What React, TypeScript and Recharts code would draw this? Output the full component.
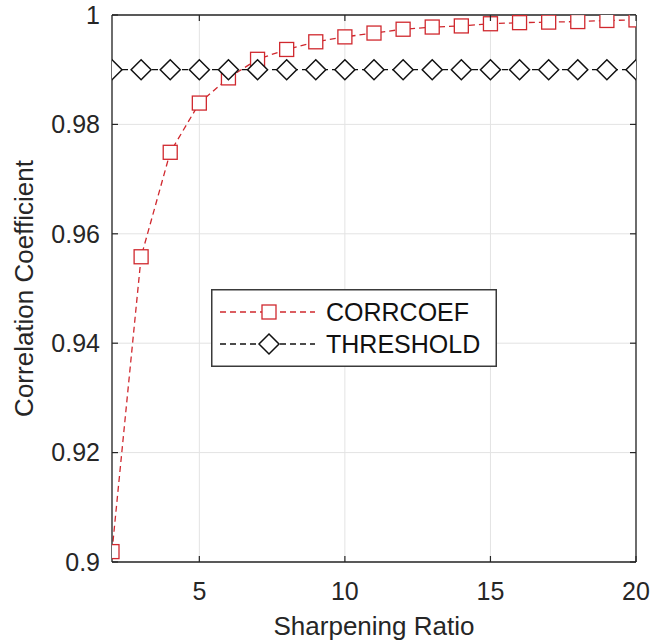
import React from 'react'
import {
  LineChart,
  Line,
  XAxis,
  YAxis,
  CartesianGrid,
  ReferenceLine,
  Legend,
  Label,
} from 'recharts'

// sharpening ratio on x, correlation coefficient on y
const RATIOS = [2, 3, 4, 5, 6, 7, 8, 9, 10, 11, 12, 13, 14, 15, 16, 17, 18, 19, 20]
const CORRCOEF = [
  0.9019, 0.9558, 0.9749, 0.9839, 0.9885, 0.9919, 0.9937, 0.9951, 0.996, 0.9967,
  0.9974, 0.9978, 0.998, 0.9984, 0.9986, 0.9987, 0.9988, 0.999, 0.9991,
]
const THRESHOLD = 0.99
const X_TICKS = [5, 10, 15, 20]
const Y_TICKS = [0.9, 0.92, 0.94, 0.96, 0.98, 1]

const data = RATIOS.map((r, i) => ({ ratio: r, corr: CORRCOEF[i], threshold: THRESHOLD }))

const W = 651
const H = 642
const PLOT_TOP = 15
const PLOT_LEFT = 112
const PLOT_RIGHT = 636
const PLOT_BOTTOM = 562
const AXIS = '#262626'
const GRID = '#e3e3e3'
const RED = '#d0282e'
const FONT = '"Liberation Sans", Arial, Helvetica, sans-serif'
const TICK_LEN = 6

function Square({ cx, cy, size = 14 }: { cx: number; cy: number; size?: number }) {
  return (
    <rect
      x={cx - size / 2}
      y={cy - size / 2}
      width={size}
      height={size}
      fill="#fff"
      stroke={RED}
      strokeWidth={1.3}
    />
  )
}

function Diamond({ cx, cy, r = 10 }: { cx: number; cy: number; r?: number }) {
  return (
    <polygon
      points={`${cx},${cy - r} ${cx + r},${cy} ${cx},${cy + r} ${cx - r},${cy}`}
      fill="#fff"
      stroke="#111"
      strokeWidth={1.5}
    />
  )
}

function XTick({ x, y, payload }: any) {
  return (
    <g>
      <line x1={x} x2={x} y1={PLOT_BOTTOM} y2={PLOT_BOTTOM - TICK_LEN} stroke={AXIS} strokeWidth={1.2} />
      <line x1={x} x2={x} y1={PLOT_TOP} y2={PLOT_TOP + TICK_LEN} stroke={AXIS} strokeWidth={1.2} />
      <text x={x} y={y} dy="0.71em" textAnchor="middle" fontSize={25} fontFamily={FONT} fill="#262626">
        {payload.value}
      </text>
    </g>
  )
}

function YTick({ x, y, payload }: any) {
  const label = String(+Number(payload.value).toFixed(2))
  return (
    <g>
      <line x1={PLOT_LEFT} x2={PLOT_LEFT + TICK_LEN} y1={y} y2={y} stroke={AXIS} strokeWidth={1.2} />
      <line x1={PLOT_RIGHT} x2={PLOT_RIGHT - TICK_LEN} y1={y} y2={y} stroke={AXIS} strokeWidth={1.2} />
      <text x={x} y={y} dy="0.355em" textAnchor="end" fontSize={25} fontFamily={FONT} fill="#262626">
        {label}
      </text>
    </g>
  )
}

function LegendBox() {
  const rows = [
    { name: 'CORRCOEF', color: RED, marker: 'square' },
    { name: 'THRESHOLD', color: '#111', marker: 'diamond' },
  ]
  return (
    <svg width={286} height={78} style={{ display: 'block' }}>
      <rect x={0.75} y={0.75} width={284.5} height={76.5} fill="#fff" stroke="#3a3a3a" strokeWidth={1.5} />
      {rows.map((r, i) => {
        const cy = 23 + i * 32
        return (
          <g key={r.name}>
            <line x1={9} x2={104} y1={cy} y2={cy} stroke={r.color} strokeWidth={1.3} strokeDasharray="6 4" />
            {r.marker === 'square' ? <Square cx={58} cy={cy} /> : <Diamond cx={58} cy={cy} />}
            <text x={115} y={cy} dy="0.355em" fontSize={25} fontFamily={FONT} fill="#111">
              {r.name}
            </text>
          </g>
        )
      })}
    </svg>
  )
}

export default function App() {
  return (
    <div style={{ position: 'absolute', left: 0, top: 0, width: W, height: H, background: '#fff' }}>
      <LineChart
        width={W}
        height={H}
        data={data}
        margin={{ top: PLOT_TOP, right: W - PLOT_RIGHT, bottom: 0, left: 0 }}
      >
        <CartesianGrid stroke={GRID} strokeWidth={1} />
        <XAxis
          dataKey="ratio"
          type="number"
          domain={[2, 20]}
          ticks={X_TICKS}
          allowDataOverflow
          height={H - PLOT_BOTTOM}
          tickSize={0}
          tickMargin={20}
          tick={<XTick />}
          stroke={AXIS}
          strokeWidth={1.3}
        >
          <Label
            value="Sharpening Ratio"
            position="insideBottom"
            offset={7}
            fontSize={26}
            fontFamily={FONT}
            fill="#262626"
          />
        </XAxis>
        <YAxis
          type="number"
          domain={[0.9, 1]}
          ticks={Y_TICKS}
          allowDataOverflow
          width={PLOT_LEFT}
          tickSize={0}
          tickMargin={12}
          tick={<YTick />}
          stroke={AXIS}
          strokeWidth={1.3}
        >
          <Label
            content={(p: any) => {
              const vb = p.viewBox || { y: PLOT_TOP, height: PLOT_BOTTOM - PLOT_TOP }
              const cy = vb.y + vb.height / 2
              return (
                <text
                  transform={`translate(24, ${cy}) rotate(-90)`}
                  textAnchor="middle"
                  dominantBaseline="central"
                  fontSize={26}
                  fontFamily={FONT}
                  fill="#262626"
                >
                  Correlation Coefficient
                </text>
              )
            }}
          />
        </YAxis>
        <ReferenceLine y={1} stroke={AXIS} strokeWidth={1.3} />
        <ReferenceLine x={20} stroke={AXIS} strokeWidth={1.3} />
        <Line
          dataKey="corr"
          stroke={RED}
          strokeWidth={1.3}
          strokeDasharray="6 4"
          isAnimationActive={false}
          dot={(p: any) => <Square key={`s${p.index}`} cx={p.cx} cy={p.cy} />}
        />
        <Line
          dataKey="threshold"
          stroke="#111"
          strokeWidth={1.3}
          strokeDasharray="6 4"
          isAnimationActive={false}
          dot={(p: any) => <Diamond key={`d${p.index}`} cx={p.cx} cy={p.cy} />}
        />
        <Legend
          layout="vertical"
          align="center"
          verticalAlign="middle"
          content={() => <LegendBox />}
          wrapperStyle={{ left: 211, top: 289, width: 286, height: 78 }}
        />
      </LineChart>
    </div>
  )
}
